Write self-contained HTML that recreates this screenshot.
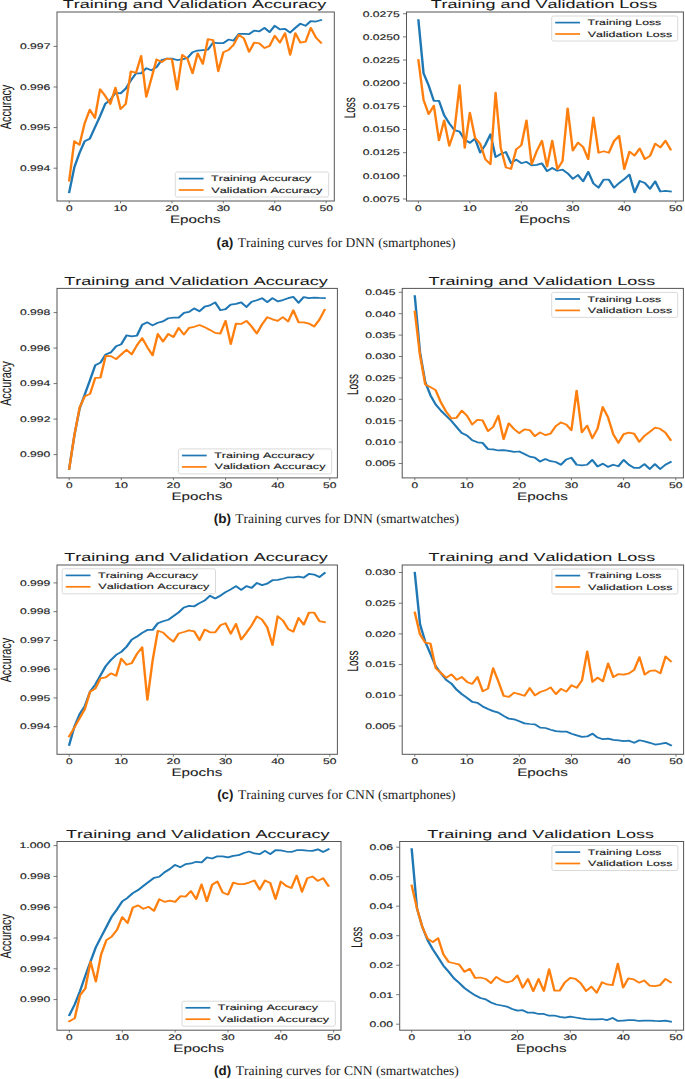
<!DOCTYPE html>
<html><head><meta charset="utf-8"><style>
html,body{margin:0;padding:0;background:#fff;}
svg{display:block;}
text{font-kerning:none;text-rendering:geometricPrecision;}
</style></head><body>
<svg width="685" height="1079" viewBox="0 0 685 1079">
<rect width="685" height="1079" fill="#fff"/>
<text transform="translate(62.75,8.40) scale(0.9010,0.5741)" font-size="20" font-family='"Liberation Sans", sans-serif' fill="#1a1a1a" stroke="#1a1a1a" stroke-width="0.089">Training and Validation Accuracy</text>
<polyline transform="scale(1,0.73)" points="69.20,263.37 74.34,229.21 79.48,209.61 84.62,193.38 89.76,190.02 94.89,174.62 100.03,159.22 105.17,142.42 110.31,136.82 115.45,127.02 120.59,127.86 125.73,121.42 130.87,110.23 136.00,100.43 141.14,100.43 146.28,93.43 151.42,96.23 156.56,92.03 161.70,82.23 166.84,80.27 171.98,80.27 177.11,82.23 182.25,81.39 187.39,79.43 192.53,71.53 197.67,69.21 202.81,68.63 207.95,68.05 213.09,58.49 218.22,59.07 223.36,59.07 228.50,54.14 233.64,55.59 238.78,46.31 243.92,46.31 249.06,46.89 254.20,41.96 259.33,43.12 264.47,38.19 269.61,43.99 274.75,35.29 279.89,40.22 285.03,39.64 290.17,44.57 295.31,38.19 300.44,32.39 305.58,35.29 310.72,28.91 315.86,29.49 321.00,27.46" fill="none" stroke="#1f77b4" stroke-width="2.4" stroke-linejoin="round" stroke-linecap="square"/>
<polyline transform="scale(1,0.73)" points="69.20,247.41 74.34,193.38 79.48,198.41 84.62,169.02 89.76,150.26 94.89,161.46 100.03,122.26 105.17,131.22 110.31,142.42 115.45,120.02 120.59,149.42 125.73,142.42 130.87,97.63 136.00,99.87 141.14,76.63 146.28,132.62 151.42,107.43 156.56,81.39 161.70,85.03 166.84,80.27 171.98,81.39 177.11,122.82 182.25,75.23 187.39,80.27 192.53,100.53 197.67,72.98 202.81,87.48 207.95,53.56 213.09,55.01 218.22,97.63 223.36,71.53 228.50,68.63 233.64,61.39 238.78,47.76 243.92,52.69 249.06,70.95 254.20,58.49 259.33,59.36 264.47,65.73 269.61,62.84 274.75,48.92 279.89,58.49 285.03,45.44 290.17,75.30 295.31,45.44 300.44,58.49 305.58,57.04 310.72,38.19 315.86,51.24 321.00,58.49" fill="none" stroke="#ff7f0e" stroke-width="2.4" stroke-linejoin="round" stroke-linecap="square"/>
<rect x="57.00" y="12.00" width="277.30" height="189.00" fill="none" stroke="#555" stroke-width="1"/>
<line x1="53.50" y1="168.20" x2="57.00" y2="168.20" stroke="#555" stroke-width="0.8"/>
<text transform="translate(19.93,171.00) scale(0.6038,0.4070)" font-size="20" font-family='"Liberation Sans", sans-serif' fill="#1a1a1a" stroke="#1a1a1a" stroke-width="0.331">0.994</text>
<line x1="53.50" y1="127.60" x2="57.00" y2="127.60" stroke="#555" stroke-width="0.8"/>
<text transform="translate(19.93,130.40) scale(0.6070,0.4070)" font-size="20" font-family='"Liberation Sans", sans-serif' fill="#1a1a1a" stroke="#1a1a1a" stroke-width="0.329">0.995</text>
<line x1="53.50" y1="87.00" x2="57.00" y2="87.00" stroke="#555" stroke-width="0.8"/>
<text transform="translate(19.93,89.80) scale(0.6075,0.4070)" font-size="20" font-family='"Liberation Sans", sans-serif' fill="#1a1a1a" stroke="#1a1a1a" stroke-width="0.329">0.996</text>
<line x1="53.50" y1="46.40" x2="57.00" y2="46.40" stroke="#555" stroke-width="0.8"/>
<text transform="translate(19.93,49.20) scale(0.6091,0.4070)" font-size="20" font-family='"Liberation Sans", sans-serif' fill="#1a1a1a" stroke="#1a1a1a" stroke-width="0.328">0.997</text>
<line x1="69.20" y1="201.00" x2="69.20" y2="203.30" stroke="#555" stroke-width="0.8"/>
<text transform="translate(65.89,210.70) scale(0.5950,0.4070)" font-size="20" font-family='"Liberation Sans", sans-serif' fill="#1a1a1a" stroke="#1a1a1a" stroke-width="0.336">0</text>
<line x1="120.59" y1="201.00" x2="120.59" y2="203.30" stroke="#555" stroke-width="0.8"/>
<text transform="translate(113.40,210.70) scale(0.6249,0.4070)" font-size="20" font-family='"Liberation Sans", sans-serif' fill="#1a1a1a" stroke="#1a1a1a" stroke-width="0.320">10</text>
<line x1="171.98" y1="201.00" x2="171.98" y2="203.30" stroke="#555" stroke-width="0.8"/>
<text transform="translate(165.13,210.70) scale(0.6091,0.4070)" font-size="20" font-family='"Liberation Sans", sans-serif' fill="#1a1a1a" stroke="#1a1a1a" stroke-width="0.328">20</text>
<line x1="223.36" y1="201.00" x2="223.36" y2="203.30" stroke="#555" stroke-width="0.8"/>
<text transform="translate(216.67,210.70) scale(0.6020,0.4070)" font-size="20" font-family='"Liberation Sans", sans-serif' fill="#1a1a1a" stroke="#1a1a1a" stroke-width="0.332">30</text>
<line x1="274.75" y1="201.00" x2="274.75" y2="203.30" stroke="#555" stroke-width="0.8"/>
<text transform="translate(268.25,210.70) scale(0.5933,0.4070)" font-size="20" font-family='"Liberation Sans", sans-serif' fill="#1a1a1a" stroke="#1a1a1a" stroke-width="0.337">40</text>
<line x1="326.14" y1="201.00" x2="326.14" y2="203.30" stroke="#555" stroke-width="0.8"/>
<text transform="translate(319.42,210.70) scale(0.6031,0.4070)" font-size="20" font-family='"Liberation Sans", sans-serif' fill="#1a1a1a" stroke="#1a1a1a" stroke-width="0.332">50</text>
<text transform="translate(169.90,222.80) scale(0.7615,0.5451)" font-size="20" font-family='"Liberation Sans", sans-serif' fill="#1a1a1a" stroke="#1a1a1a" stroke-width="0.131">Epochs</text>
<text transform="translate(10.90,129.22) rotate(-90) scale(0.5404,0.7631)" font-size="20" font-family='"Liberation Sans", sans-serif' fill="#1a1a1a" stroke="#1a1a1a" stroke-width="0.131">Accuracy</text>
<rect x="175.30" y="172.00" width="153.30" height="25.00" rx="2" ry="1.5" fill="#fff" fill-opacity="0.85" stroke="#d6d6d6" stroke-width="0.9"/>
<line x1="178.80" y1="178.60" x2="203.60" y2="178.60" stroke="#1f77b4" stroke-width="1.7"/>
<line x1="178.80" y1="190.00" x2="203.60" y2="190.00" stroke="#ff7f0e" stroke-width="1.7"/>
<text transform="translate(211.12,181.10) scale(0.6254,0.3997)" font-size="20" font-family='"Liberation Sans", sans-serif' fill="#1a1a1a" stroke="#1a1a1a" stroke-width="0.320">Training Accuracy</text>
<text transform="translate(211.34,192.50) scale(0.6324,0.3997)" font-size="20" font-family='"Liberation Sans", sans-serif' fill="#1a1a1a" stroke="#1a1a1a" stroke-width="0.316">Validation Accuracy</text>
<text transform="translate(430.65,8.40) scale(0.8981,0.5741)" font-size="20" font-family='"Liberation Sans", sans-serif' fill="#1a1a1a" stroke="#1a1a1a" stroke-width="0.089">Training and Validation Loss</text>
<polyline transform="scale(1,0.73)" points="418.40,27.64 423.55,100.43 428.69,117.23 433.84,138.22 438.99,138.22 444.13,157.82 449.28,169.02 454.43,178.26 459.58,180.22 464.72,191.42 469.87,195.62 475.02,190.02 480.16,209.05 485.31,198.41 490.46,183.86 495.60,215.21 500.75,211.01 505.90,208.21 511.04,223.61 516.19,218.57 521.34,223.61 526.49,221.65 531.63,226.41 536.78,225.85 541.93,223.77 547.07,234.50 552.22,230.15 557.37,233.92 562.51,232.47 567.66,237.40 572.81,244.94 577.96,239.72 583.10,248.42 588.25,235.37 593.40,251.32 598.54,257.12 603.69,246.10 608.84,246.10 613.98,257.12 619.13,250.74 624.28,245.52 629.42,239.14 634.57,263.50 639.72,247.84 644.87,250.74 650.01,258.57 655.16,248.42 660.31,262.34 665.45,261.47 670.60,262.34" fill="none" stroke="#1f77b4" stroke-width="2.4" stroke-linejoin="round" stroke-linecap="square"/>
<polyline transform="scale(1,0.73)" points="418.40,82.23 423.55,136.82 428.69,156.42 433.84,144.66 438.99,192.26 444.13,164.82 449.28,199.81 454.43,178.82 459.58,116.67 464.72,202.61 469.87,154.18 475.02,188.62 480.16,197.02 485.31,218.01 490.46,225.01 495.60,127.02 500.75,202.61 505.90,229.21 511.04,231.45 516.19,204.57 521.34,198.97 526.49,164.82 531.63,225.01 536.78,206.81 541.93,192.75 547.07,228.12 552.22,192.75 557.37,231.60 562.51,220.87 567.66,148.38 572.81,206.37 577.96,195.36 583.10,201.45 588.25,217.97 593.40,160.85 598.54,209.27 603.69,207.24 608.84,209.27 613.98,193.33 619.13,186.08 624.28,231.60 629.42,207.82 634.57,213.04 639.72,203.48 644.87,217.97 650.01,213.62 655.16,196.81 660.31,202.03 665.45,192.75 670.60,204.93" fill="none" stroke="#ff7f0e" stroke-width="2.4" stroke-linejoin="round" stroke-linecap="square"/>
<rect x="406.50" y="12.00" width="276.90" height="189.00" fill="none" stroke="#555" stroke-width="1"/>
<line x1="403.00" y1="199.00" x2="406.50" y2="199.00" stroke="#555" stroke-width="0.8"/>
<text transform="translate(362.66,201.80) scale(0.6074,0.4070)" font-size="20" font-family='"Liberation Sans", sans-serif' fill="#1a1a1a" stroke="#1a1a1a" stroke-width="0.329">0.0075</text>
<line x1="403.00" y1="175.84" x2="406.50" y2="175.84" stroke="#555" stroke-width="0.8"/>
<text transform="translate(362.66,178.64) scale(0.6068,0.4070)" font-size="20" font-family='"Liberation Sans", sans-serif' fill="#1a1a1a" stroke="#1a1a1a" stroke-width="0.330">0.0100</text>
<line x1="403.00" y1="152.68" x2="406.50" y2="152.68" stroke="#555" stroke-width="0.8"/>
<text transform="translate(362.66,155.48) scale(0.6074,0.4070)" font-size="20" font-family='"Liberation Sans", sans-serif' fill="#1a1a1a" stroke="#1a1a1a" stroke-width="0.329">0.0125</text>
<line x1="403.00" y1="129.52" x2="406.50" y2="129.52" stroke="#555" stroke-width="0.8"/>
<text transform="translate(362.66,132.32) scale(0.6068,0.4070)" font-size="20" font-family='"Liberation Sans", sans-serif' fill="#1a1a1a" stroke="#1a1a1a" stroke-width="0.330">0.0150</text>
<line x1="403.00" y1="106.36" x2="406.50" y2="106.36" stroke="#555" stroke-width="0.8"/>
<text transform="translate(362.66,109.16) scale(0.6074,0.4070)" font-size="20" font-family='"Liberation Sans", sans-serif' fill="#1a1a1a" stroke="#1a1a1a" stroke-width="0.329">0.0175</text>
<line x1="403.00" y1="83.20" x2="406.50" y2="83.20" stroke="#555" stroke-width="0.8"/>
<text transform="translate(362.66,86.00) scale(0.6068,0.4070)" font-size="20" font-family='"Liberation Sans", sans-serif' fill="#1a1a1a" stroke="#1a1a1a" stroke-width="0.330">0.0200</text>
<line x1="403.00" y1="60.04" x2="406.50" y2="60.04" stroke="#555" stroke-width="0.8"/>
<text transform="translate(362.66,62.84) scale(0.6074,0.4070)" font-size="20" font-family='"Liberation Sans", sans-serif' fill="#1a1a1a" stroke="#1a1a1a" stroke-width="0.329">0.0225</text>
<line x1="403.00" y1="36.88" x2="406.50" y2="36.88" stroke="#555" stroke-width="0.8"/>
<text transform="translate(362.66,39.68) scale(0.6068,0.4070)" font-size="20" font-family='"Liberation Sans", sans-serif' fill="#1a1a1a" stroke="#1a1a1a" stroke-width="0.330">0.0250</text>
<line x1="403.00" y1="13.72" x2="406.50" y2="13.72" stroke="#555" stroke-width="0.8"/>
<text transform="translate(362.66,16.52) scale(0.6074,0.4070)" font-size="20" font-family='"Liberation Sans", sans-serif' fill="#1a1a1a" stroke="#1a1a1a" stroke-width="0.329">0.0275</text>
<line x1="418.40" y1="201.00" x2="418.40" y2="203.30" stroke="#555" stroke-width="0.8"/>
<text transform="translate(415.09,210.70) scale(0.5950,0.4070)" font-size="20" font-family='"Liberation Sans", sans-serif' fill="#1a1a1a" stroke="#1a1a1a" stroke-width="0.336">0</text>
<line x1="469.87" y1="201.00" x2="469.87" y2="203.30" stroke="#555" stroke-width="0.8"/>
<text transform="translate(462.69,210.70) scale(0.6249,0.4070)" font-size="20" font-family='"Liberation Sans", sans-serif' fill="#1a1a1a" stroke="#1a1a1a" stroke-width="0.320">10</text>
<line x1="521.34" y1="201.00" x2="521.34" y2="203.30" stroke="#555" stroke-width="0.8"/>
<text transform="translate(514.49,210.70) scale(0.6091,0.4070)" font-size="20" font-family='"Liberation Sans", sans-serif' fill="#1a1a1a" stroke="#1a1a1a" stroke-width="0.328">20</text>
<line x1="572.81" y1="201.00" x2="572.81" y2="203.30" stroke="#555" stroke-width="0.8"/>
<text transform="translate(566.12,210.70) scale(0.6020,0.4070)" font-size="20" font-family='"Liberation Sans", sans-serif' fill="#1a1a1a" stroke="#1a1a1a" stroke-width="0.332">30</text>
<line x1="624.28" y1="201.00" x2="624.28" y2="203.30" stroke="#555" stroke-width="0.8"/>
<text transform="translate(617.77,210.70) scale(0.5933,0.4070)" font-size="20" font-family='"Liberation Sans", sans-serif' fill="#1a1a1a" stroke="#1a1a1a" stroke-width="0.337">40</text>
<line x1="675.75" y1="201.00" x2="675.75" y2="203.30" stroke="#555" stroke-width="0.8"/>
<text transform="translate(669.03,210.70) scale(0.6031,0.4070)" font-size="20" font-family='"Liberation Sans", sans-serif' fill="#1a1a1a" stroke="#1a1a1a" stroke-width="0.332">50</text>
<text transform="translate(519.20,222.80) scale(0.7615,0.5451)" font-size="20" font-family='"Liberation Sans", sans-serif' fill="#1a1a1a" stroke="#1a1a1a" stroke-width="0.131">Epochs</text>
<text transform="translate(355.00,118.37) rotate(-90) scale(0.4990,0.7703)" font-size="20" font-family='"Liberation Sans", sans-serif' fill="#1a1a1a" stroke="#1a1a1a" stroke-width="0.130">Loss</text>
<rect x="551.70" y="16.00" width="126.00" height="25.00" rx="2" ry="1.5" fill="#fff" fill-opacity="0.85" stroke="#d6d6d6" stroke-width="0.9"/>
<line x1="555.20" y1="22.60" x2="580.00" y2="22.60" stroke="#1f77b4" stroke-width="1.7"/>
<line x1="555.20" y1="34.00" x2="580.00" y2="34.00" stroke="#ff7f0e" stroke-width="1.7"/>
<text transform="translate(587.52,25.10) scale(0.6140,0.3997)" font-size="20" font-family='"Liberation Sans", sans-serif' fill="#1a1a1a" stroke="#1a1a1a" stroke-width="0.326">Training Loss</text>
<text transform="translate(587.75,36.50) scale(0.6230,0.3997)" font-size="20" font-family='"Liberation Sans", sans-serif' fill="#1a1a1a" stroke="#1a1a1a" stroke-width="0.321">Validation Loss</text>
<text transform="translate(64.30,284.80) scale(0.9010,0.5741)" font-size="20" font-family='"Liberation Sans", sans-serif' fill="#1a1a1a" stroke="#1a1a1a" stroke-width="0.089">Training and Validation Accuracy</text>
<polyline transform="scale(1,0.73)" points="69.20,642.29 74.41,596.09 79.62,559.70 84.84,540.10 90.05,520.50 95.26,500.35 100.47,496.71 105.69,485.51 110.90,482.71 116.11,474.31 121.32,471.51 126.53,459.47 131.75,460.87 136.96,459.75 142.17,444.91 147.38,441.55 152.60,445.75 157.81,442.11 163.02,440.15 168.23,435.96 173.44,435.12 178.66,435.12 183.87,428.68 189.08,427.28 194.29,422.52 199.51,426.42 204.72,420.04 209.93,418.30 215.14,414.24 220.36,424.97 225.57,423.52 230.78,417.14 235.99,416.27 241.20,414.24 246.42,420.62 251.63,413.37 256.84,411.34 262.05,408.44 267.27,413.95 272.48,408.44 277.69,412.79 282.90,411.05 288.11,408.44 293.33,406.70 298.54,414.82 303.75,406.99 308.96,408.44 314.18,407.57 319.39,408.15 324.60,408.44" fill="none" stroke="#1f77b4" stroke-width="2.4" stroke-linejoin="round" stroke-linecap="square"/>
<polyline transform="scale(1,0.73)" points="69.20,642.29 74.41,596.09 79.62,558.30 84.84,542.90 90.05,539.54 95.26,517.70 100.47,517.14 105.69,487.47 110.90,487.75 116.11,491.95 121.32,485.51 126.53,479.07 131.75,485.51 136.96,472.91 142.17,463.11 147.38,475.71 152.60,486.91 157.81,457.51 163.02,467.87 168.23,457.51 173.44,461.71 178.66,449.11 183.87,458.35 189.08,449.11 194.29,447.71 199.51,445.27 204.72,448.17 209.93,451.94 215.14,456.00 220.36,456.87 225.57,439.47 230.78,471.37 235.99,443.24 241.20,443.82 246.42,439.47 251.63,447.30 256.84,456.87 262.05,444.40 267.27,434.54 272.48,437.44 277.69,439.47 282.90,434.54 288.11,440.34 293.33,424.97 298.54,441.50 303.75,441.50 308.96,443.24 314.18,447.30 319.39,438.02 324.60,424.39" fill="none" stroke="#ff7f0e" stroke-width="2.4" stroke-linejoin="round" stroke-linecap="square"/>
<rect x="57.00" y="288.40" width="280.40" height="189.50" fill="none" stroke="#555" stroke-width="1"/>
<line x1="53.50" y1="454.60" x2="57.00" y2="454.60" stroke="#555" stroke-width="0.8"/>
<text transform="translate(19.93,457.40) scale(0.6063,0.4070)" font-size="20" font-family='"Liberation Sans", sans-serif' fill="#1a1a1a" stroke="#1a1a1a" stroke-width="0.330">0.990</text>
<line x1="53.50" y1="419.10" x2="57.00" y2="419.10" stroke="#555" stroke-width="0.8"/>
<text transform="translate(19.93,421.90) scale(0.6091,0.4070)" font-size="20" font-family='"Liberation Sans", sans-serif' fill="#1a1a1a" stroke="#1a1a1a" stroke-width="0.328">0.992</text>
<line x1="53.50" y1="383.60" x2="57.00" y2="383.60" stroke="#555" stroke-width="0.8"/>
<text transform="translate(19.93,386.40) scale(0.6038,0.4070)" font-size="20" font-family='"Liberation Sans", sans-serif' fill="#1a1a1a" stroke="#1a1a1a" stroke-width="0.331">0.994</text>
<line x1="53.50" y1="348.10" x2="57.00" y2="348.10" stroke="#555" stroke-width="0.8"/>
<text transform="translate(19.93,350.90) scale(0.6075,0.4070)" font-size="20" font-family='"Liberation Sans", sans-serif' fill="#1a1a1a" stroke="#1a1a1a" stroke-width="0.329">0.996</text>
<line x1="53.50" y1="312.60" x2="57.00" y2="312.60" stroke="#555" stroke-width="0.8"/>
<text transform="translate(19.93,315.40) scale(0.6074,0.4070)" font-size="20" font-family='"Liberation Sans", sans-serif' fill="#1a1a1a" stroke="#1a1a1a" stroke-width="0.329">0.998</text>
<line x1="69.20" y1="477.90" x2="69.20" y2="480.20" stroke="#555" stroke-width="0.8"/>
<text transform="translate(65.89,487.60) scale(0.5950,0.4070)" font-size="20" font-family='"Liberation Sans", sans-serif' fill="#1a1a1a" stroke="#1a1a1a" stroke-width="0.336">0</text>
<line x1="121.32" y1="477.90" x2="121.32" y2="480.20" stroke="#555" stroke-width="0.8"/>
<text transform="translate(114.14,487.60) scale(0.6249,0.4070)" font-size="20" font-family='"Liberation Sans", sans-serif' fill="#1a1a1a" stroke="#1a1a1a" stroke-width="0.320">10</text>
<line x1="173.44" y1="477.90" x2="173.44" y2="480.20" stroke="#555" stroke-width="0.8"/>
<text transform="translate(166.60,487.60) scale(0.6091,0.4070)" font-size="20" font-family='"Liberation Sans", sans-serif' fill="#1a1a1a" stroke="#1a1a1a" stroke-width="0.328">20</text>
<line x1="225.57" y1="477.90" x2="225.57" y2="480.20" stroke="#555" stroke-width="0.8"/>
<text transform="translate(218.88,487.60) scale(0.6020,0.4070)" font-size="20" font-family='"Liberation Sans", sans-serif' fill="#1a1a1a" stroke="#1a1a1a" stroke-width="0.332">30</text>
<line x1="277.69" y1="477.90" x2="277.69" y2="480.20" stroke="#555" stroke-width="0.8"/>
<text transform="translate(271.19,487.60) scale(0.5933,0.4070)" font-size="20" font-family='"Liberation Sans", sans-serif' fill="#1a1a1a" stroke="#1a1a1a" stroke-width="0.337">40</text>
<line x1="329.81" y1="477.90" x2="329.81" y2="480.20" stroke="#555" stroke-width="0.8"/>
<text transform="translate(323.10,487.60) scale(0.6031,0.4070)" font-size="20" font-family='"Liberation Sans", sans-serif' fill="#1a1a1a" stroke="#1a1a1a" stroke-width="0.332">50</text>
<text transform="translate(171.45,499.70) scale(0.7615,0.5451)" font-size="20" font-family='"Liberation Sans", sans-serif' fill="#1a1a1a" stroke="#1a1a1a" stroke-width="0.131">Epochs</text>
<text transform="translate(10.90,405.87) rotate(-90) scale(0.5404,0.7631)" font-size="20" font-family='"Liberation Sans", sans-serif' fill="#1a1a1a" stroke="#1a1a1a" stroke-width="0.131">Accuracy</text>
<rect x="178.40" y="448.90" width="153.30" height="25.00" rx="2" ry="1.5" fill="#fff" fill-opacity="0.85" stroke="#d6d6d6" stroke-width="0.9"/>
<line x1="181.90" y1="455.50" x2="206.70" y2="455.50" stroke="#1f77b4" stroke-width="1.7"/>
<line x1="181.90" y1="466.90" x2="206.70" y2="466.90" stroke="#ff7f0e" stroke-width="1.7"/>
<text transform="translate(214.22,458.00) scale(0.6254,0.3997)" font-size="20" font-family='"Liberation Sans", sans-serif' fill="#1a1a1a" stroke="#1a1a1a" stroke-width="0.320">Training Accuracy</text>
<text transform="translate(214.44,469.40) scale(0.6324,0.3997)" font-size="20" font-family='"Liberation Sans", sans-serif' fill="#1a1a1a" stroke="#1a1a1a" stroke-width="0.316">Validation Accuracy</text>
<text transform="translate(428.50,284.80) scale(0.8981,0.5741)" font-size="20" font-family='"Liberation Sans", sans-serif' fill="#1a1a1a" stroke="#1a1a1a" stroke-width="0.089">Training and Validation Loss</text>
<polyline transform="scale(1,0.73)" points="414.80,405.72 420.02,482.71 425.24,523.30 430.46,541.50 435.68,554.10 440.90,562.50 446.12,569.50 451.34,576.50 456.56,584.90 461.78,593.29 467.00,596.65 472.22,603.09 477.44,605.89 482.67,606.73 487.89,615.13 493.11,615.69 498.33,617.09 503.55,616.53 508.77,617.65 513.99,619.05 519.21,618.49 524.43,621.85 529.65,625.49 534.87,626.89 540.09,632.30 545.31,628.82 550.53,631.72 555.75,632.88 560.97,636.65 566.19,629.40 571.41,627.08 576.63,636.65 581.85,637.52 587.07,636.65 592.29,629.98 597.51,638.97 602.73,635.20 607.96,639.55 613.18,636.65 618.40,638.68 623.62,629.98 628.84,636.65 634.06,641.00 639.28,641.00 644.50,635.78 649.72,642.45 654.94,635.78 660.16,642.45 665.38,636.65 670.60,632.88" fill="none" stroke="#1f77b4" stroke-width="2.4" stroke-linejoin="round" stroke-linecap="square"/>
<polyline transform="scale(1,0.73)" points="414.80,426.72 420.02,486.91 425.24,526.66 430.46,530.30 435.68,534.50 440.90,551.30 446.12,563.90 451.34,573.14 456.56,572.30 461.78,562.50 467.00,569.50 472.22,581.54 477.44,575.10 482.67,575.94 487.89,590.50 493.11,584.90 498.33,569.50 503.55,601.69 508.77,579.86 513.99,587.70 519.21,593.29 524.43,588.26 529.65,589.10 534.87,597.49 540.09,592.29 545.31,596.06 550.53,594.03 555.75,583.59 560.97,578.66 566.19,581.56 571.41,589.39 576.63,535.16 581.85,592.29 587.07,583.01 592.29,600.41 597.51,587.36 602.73,557.49 607.96,571.41 613.18,594.61 618.40,606.79 623.62,594.61 628.84,592.58 634.06,594.03 639.28,605.34 644.50,596.93 649.72,591.71 654.94,585.91 660.16,587.36 665.38,592.58 670.60,602.73" fill="none" stroke="#ff7f0e" stroke-width="2.4" stroke-linejoin="round" stroke-linecap="square"/>
<rect x="402.20" y="288.40" width="281.20" height="189.50" fill="none" stroke="#555" stroke-width="1"/>
<line x1="398.70" y1="463.50" x2="402.20" y2="463.50" stroke="#555" stroke-width="0.8"/>
<text transform="translate(365.13,466.30) scale(0.6070,0.4070)" font-size="20" font-family='"Liberation Sans", sans-serif' fill="#1a1a1a" stroke="#1a1a1a" stroke-width="0.329">0.005</text>
<line x1="398.70" y1="442.10" x2="402.20" y2="442.10" stroke="#555" stroke-width="0.8"/>
<text transform="translate(365.13,444.90) scale(0.6063,0.4070)" font-size="20" font-family='"Liberation Sans", sans-serif' fill="#1a1a1a" stroke="#1a1a1a" stroke-width="0.330">0.010</text>
<line x1="398.70" y1="420.70" x2="402.20" y2="420.70" stroke="#555" stroke-width="0.8"/>
<text transform="translate(365.13,423.50) scale(0.6070,0.4070)" font-size="20" font-family='"Liberation Sans", sans-serif' fill="#1a1a1a" stroke="#1a1a1a" stroke-width="0.329">0.015</text>
<line x1="398.70" y1="399.30" x2="402.20" y2="399.30" stroke="#555" stroke-width="0.8"/>
<text transform="translate(365.13,402.10) scale(0.6063,0.4070)" font-size="20" font-family='"Liberation Sans", sans-serif' fill="#1a1a1a" stroke="#1a1a1a" stroke-width="0.330">0.020</text>
<line x1="398.70" y1="377.90" x2="402.20" y2="377.90" stroke="#555" stroke-width="0.8"/>
<text transform="translate(365.13,380.70) scale(0.6070,0.4070)" font-size="20" font-family='"Liberation Sans", sans-serif' fill="#1a1a1a" stroke="#1a1a1a" stroke-width="0.329">0.025</text>
<line x1="398.70" y1="356.50" x2="402.20" y2="356.50" stroke="#555" stroke-width="0.8"/>
<text transform="translate(365.13,359.30) scale(0.6063,0.4070)" font-size="20" font-family='"Liberation Sans", sans-serif' fill="#1a1a1a" stroke="#1a1a1a" stroke-width="0.330">0.030</text>
<line x1="398.70" y1="335.10" x2="402.20" y2="335.10" stroke="#555" stroke-width="0.8"/>
<text transform="translate(365.13,337.90) scale(0.6070,0.4070)" font-size="20" font-family='"Liberation Sans", sans-serif' fill="#1a1a1a" stroke="#1a1a1a" stroke-width="0.329">0.035</text>
<line x1="398.70" y1="313.70" x2="402.20" y2="313.70" stroke="#555" stroke-width="0.8"/>
<text transform="translate(365.13,316.50) scale(0.6063,0.4070)" font-size="20" font-family='"Liberation Sans", sans-serif' fill="#1a1a1a" stroke="#1a1a1a" stroke-width="0.330">0.040</text>
<line x1="398.70" y1="292.30" x2="402.20" y2="292.30" stroke="#555" stroke-width="0.8"/>
<text transform="translate(365.13,295.10) scale(0.6070,0.4070)" font-size="20" font-family='"Liberation Sans", sans-serif' fill="#1a1a1a" stroke="#1a1a1a" stroke-width="0.329">0.045</text>
<line x1="414.80" y1="477.90" x2="414.80" y2="480.20" stroke="#555" stroke-width="0.8"/>
<text transform="translate(411.49,487.60) scale(0.5950,0.4070)" font-size="20" font-family='"Liberation Sans", sans-serif' fill="#1a1a1a" stroke="#1a1a1a" stroke-width="0.336">0</text>
<line x1="467.00" y1="477.90" x2="467.00" y2="480.20" stroke="#555" stroke-width="0.8"/>
<text transform="translate(459.82,487.60) scale(0.6249,0.4070)" font-size="20" font-family='"Liberation Sans", sans-serif' fill="#1a1a1a" stroke="#1a1a1a" stroke-width="0.320">10</text>
<line x1="519.21" y1="477.90" x2="519.21" y2="480.20" stroke="#555" stroke-width="0.8"/>
<text transform="translate(512.36,487.60) scale(0.6091,0.4070)" font-size="20" font-family='"Liberation Sans", sans-serif' fill="#1a1a1a" stroke="#1a1a1a" stroke-width="0.328">20</text>
<line x1="571.41" y1="477.90" x2="571.41" y2="480.20" stroke="#555" stroke-width="0.8"/>
<text transform="translate(564.72,487.60) scale(0.6020,0.4070)" font-size="20" font-family='"Liberation Sans", sans-serif' fill="#1a1a1a" stroke="#1a1a1a" stroke-width="0.332">30</text>
<line x1="623.62" y1="477.90" x2="623.62" y2="480.20" stroke="#555" stroke-width="0.8"/>
<text transform="translate(617.11,487.60) scale(0.5933,0.4070)" font-size="20" font-family='"Liberation Sans", sans-serif' fill="#1a1a1a" stroke="#1a1a1a" stroke-width="0.337">40</text>
<line x1="675.82" y1="477.90" x2="675.82" y2="480.20" stroke="#555" stroke-width="0.8"/>
<text transform="translate(669.11,487.60) scale(0.6031,0.4070)" font-size="20" font-family='"Liberation Sans", sans-serif' fill="#1a1a1a" stroke="#1a1a1a" stroke-width="0.332">50</text>
<text transform="translate(517.05,499.70) scale(0.7615,0.5451)" font-size="20" font-family='"Liberation Sans", sans-serif' fill="#1a1a1a" stroke="#1a1a1a" stroke-width="0.131">Epochs</text>
<text transform="translate(358.10,395.02) rotate(-90) scale(0.4990,0.7703)" font-size="20" font-family='"Liberation Sans", sans-serif' fill="#1a1a1a" stroke="#1a1a1a" stroke-width="0.130">Loss</text>
<rect x="551.70" y="292.40" width="126.00" height="25.00" rx="2" ry="1.5" fill="#fff" fill-opacity="0.85" stroke="#d6d6d6" stroke-width="0.9"/>
<line x1="555.20" y1="299.00" x2="580.00" y2="299.00" stroke="#1f77b4" stroke-width="1.7"/>
<line x1="555.20" y1="310.40" x2="580.00" y2="310.40" stroke="#ff7f0e" stroke-width="1.7"/>
<text transform="translate(587.52,301.50) scale(0.6140,0.3997)" font-size="20" font-family='"Liberation Sans", sans-serif' fill="#1a1a1a" stroke="#1a1a1a" stroke-width="0.326">Training Loss</text>
<text transform="translate(587.75,312.90) scale(0.6230,0.3997)" font-size="20" font-family='"Liberation Sans", sans-serif' fill="#1a1a1a" stroke="#1a1a1a" stroke-width="0.321">Validation Loss</text>
<text transform="translate(64.30,561.40) scale(0.9010,0.5741)" font-size="20" font-family='"Liberation Sans", sans-serif' fill="#1a1a1a" stroke="#1a1a1a" stroke-width="0.089">Training and Validation Accuracy</text>
<polyline transform="scale(1,0.73)" points="69.20,1020.34 74.41,995.14 79.62,978.35 84.84,967.15 90.05,947.55 95.26,937.75 100.47,925.15 105.69,912.55 110.90,904.16 116.11,897.16 121.32,892.96 126.53,885.96 131.75,876.16 136.96,871.96 142.17,866.92 147.38,863.00 152.60,863.00 157.81,853.76 163.02,850.96 168.23,849.00 173.44,843.96 178.66,838.92 183.87,832.21 189.08,829.97 194.29,830.53 199.51,826.17 204.72,822.69 209.93,816.02 215.14,819.79 220.36,816.02 225.57,811.09 230.78,807.32 235.99,802.97 241.20,807.90 246.42,802.97 251.63,805.29 256.84,798.62 262.05,801.52 267.27,799.49 272.48,794.85 277.69,794.27 282.90,792.82 288.11,790.79 293.33,790.79 298.54,789.92 303.75,791.37 308.96,786.15 314.18,787.02 319.39,790.50 324.60,784.99" fill="none" stroke="#1f77b4" stroke-width="2.4" stroke-linejoin="round" stroke-linecap="square"/>
<polyline transform="scale(1,0.73)" points="69.20,1008.58 74.41,996.54 79.62,983.95 84.84,971.35 90.05,947.55 95.26,943.35 100.47,929.35 105.69,927.95 110.90,922.35 116.11,925.71 121.32,902.20 126.53,910.59 131.75,908.36 136.96,895.76 142.17,886.52 147.38,958.75 152.60,905.00 157.81,864.12 163.02,866.36 168.23,873.36 173.44,878.96 178.66,867.76 183.87,865.80 189.08,863.56 194.29,864.96 199.51,876.92 204.72,862.42 209.93,866.19 215.14,866.19 220.36,856.62 225.57,853.72 230.78,868.22 235.99,854.59 241.20,876.05 246.42,866.77 251.63,856.62 256.84,844.44 262.05,848.79 267.27,859.52 272.48,883.58 277.69,844.15 282.90,849.95 288.11,861.55 293.33,865.32 298.54,846.47 303.75,855.75 308.96,839.22 314.18,839.22 319.39,850.82 324.60,852.27" fill="none" stroke="#ff7f0e" stroke-width="2.4" stroke-linejoin="round" stroke-linecap="square"/>
<rect x="57.00" y="565.00" width="280.40" height="189.30" fill="none" stroke="#555" stroke-width="1"/>
<line x1="53.50" y1="726.65" x2="57.00" y2="726.65" stroke="#555" stroke-width="0.8"/>
<text transform="translate(19.93,729.45) scale(0.6038,0.4070)" font-size="20" font-family='"Liberation Sans", sans-serif' fill="#1a1a1a" stroke="#1a1a1a" stroke-width="0.331">0.994</text>
<line x1="53.50" y1="697.90" x2="57.00" y2="697.90" stroke="#555" stroke-width="0.8"/>
<text transform="translate(19.93,700.70) scale(0.6070,0.4070)" font-size="20" font-family='"Liberation Sans", sans-serif' fill="#1a1a1a" stroke="#1a1a1a" stroke-width="0.329">0.995</text>
<line x1="53.50" y1="669.15" x2="57.00" y2="669.15" stroke="#555" stroke-width="0.8"/>
<text transform="translate(19.93,671.95) scale(0.6075,0.4070)" font-size="20" font-family='"Liberation Sans", sans-serif' fill="#1a1a1a" stroke="#1a1a1a" stroke-width="0.329">0.996</text>
<line x1="53.50" y1="640.40" x2="57.00" y2="640.40" stroke="#555" stroke-width="0.8"/>
<text transform="translate(19.93,643.20) scale(0.6091,0.4070)" font-size="20" font-family='"Liberation Sans", sans-serif' fill="#1a1a1a" stroke="#1a1a1a" stroke-width="0.328">0.997</text>
<line x1="53.50" y1="611.65" x2="57.00" y2="611.65" stroke="#555" stroke-width="0.8"/>
<text transform="translate(19.93,614.45) scale(0.6074,0.4070)" font-size="20" font-family='"Liberation Sans", sans-serif' fill="#1a1a1a" stroke="#1a1a1a" stroke-width="0.329">0.998</text>
<line x1="53.50" y1="582.90" x2="57.00" y2="582.90" stroke="#555" stroke-width="0.8"/>
<text transform="translate(19.93,585.70) scale(0.6084,0.4070)" font-size="20" font-family='"Liberation Sans", sans-serif' fill="#1a1a1a" stroke="#1a1a1a" stroke-width="0.329">0.999</text>
<line x1="69.20" y1="754.30" x2="69.20" y2="756.60" stroke="#555" stroke-width="0.8"/>
<text transform="translate(65.89,764.00) scale(0.5950,0.4070)" font-size="20" font-family='"Liberation Sans", sans-serif' fill="#1a1a1a" stroke="#1a1a1a" stroke-width="0.336">0</text>
<line x1="121.32" y1="754.30" x2="121.32" y2="756.60" stroke="#555" stroke-width="0.8"/>
<text transform="translate(114.14,764.00) scale(0.6249,0.4070)" font-size="20" font-family='"Liberation Sans", sans-serif' fill="#1a1a1a" stroke="#1a1a1a" stroke-width="0.320">10</text>
<line x1="173.44" y1="754.30" x2="173.44" y2="756.60" stroke="#555" stroke-width="0.8"/>
<text transform="translate(166.60,764.00) scale(0.6091,0.4070)" font-size="20" font-family='"Liberation Sans", sans-serif' fill="#1a1a1a" stroke="#1a1a1a" stroke-width="0.328">20</text>
<line x1="225.57" y1="754.30" x2="225.57" y2="756.60" stroke="#555" stroke-width="0.8"/>
<text transform="translate(218.88,764.00) scale(0.6020,0.4070)" font-size="20" font-family='"Liberation Sans", sans-serif' fill="#1a1a1a" stroke="#1a1a1a" stroke-width="0.332">30</text>
<line x1="277.69" y1="754.30" x2="277.69" y2="756.60" stroke="#555" stroke-width="0.8"/>
<text transform="translate(271.19,764.00) scale(0.5933,0.4070)" font-size="20" font-family='"Liberation Sans", sans-serif' fill="#1a1a1a" stroke="#1a1a1a" stroke-width="0.337">40</text>
<line x1="329.81" y1="754.30" x2="329.81" y2="756.60" stroke="#555" stroke-width="0.8"/>
<text transform="translate(323.10,764.00) scale(0.6031,0.4070)" font-size="20" font-family='"Liberation Sans", sans-serif' fill="#1a1a1a" stroke="#1a1a1a" stroke-width="0.332">50</text>
<text transform="translate(171.45,776.10) scale(0.7615,0.5451)" font-size="20" font-family='"Liberation Sans", sans-serif' fill="#1a1a1a" stroke="#1a1a1a" stroke-width="0.131">Epochs</text>
<text transform="translate(10.90,682.37) rotate(-90) scale(0.5404,0.7631)" font-size="20" font-family='"Liberation Sans", sans-serif' fill="#1a1a1a" stroke="#1a1a1a" stroke-width="0.131">Accuracy</text>
<rect x="62.20" y="568.80" width="153.30" height="25.00" rx="2" ry="1.5" fill="#fff" fill-opacity="0.85" stroke="#d6d6d6" stroke-width="0.9"/>
<line x1="65.70" y1="575.40" x2="90.50" y2="575.40" stroke="#1f77b4" stroke-width="1.7"/>
<line x1="65.70" y1="586.80" x2="90.50" y2="586.80" stroke="#ff7f0e" stroke-width="1.7"/>
<text transform="translate(98.02,577.90) scale(0.6254,0.3997)" font-size="20" font-family='"Liberation Sans", sans-serif' fill="#1a1a1a" stroke="#1a1a1a" stroke-width="0.320">Training Accuracy</text>
<text transform="translate(98.24,589.30) scale(0.6324,0.3997)" font-size="20" font-family='"Liberation Sans", sans-serif' fill="#1a1a1a" stroke="#1a1a1a" stroke-width="0.316">Validation Accuracy</text>
<text transform="translate(428.60,561.40) scale(0.8981,0.5741)" font-size="20" font-family='"Liberation Sans", sans-serif' fill="#1a1a1a" stroke="#1a1a1a" stroke-width="0.089">Training and Validation Loss</text>
<polyline transform="scale(1,0.73)" points="414.80,784.61 420.02,855.16 425.25,878.96 430.47,895.76 435.70,912.55 440.92,922.35 446.15,931.31 451.37,936.35 456.60,944.75 461.82,950.91 467.04,955.95 472.27,961.55 477.49,962.95 482.72,967.71 487.94,971.35 493.17,974.15 498.39,976.11 503.62,980.59 508.84,984.51 514.07,985.35 519.29,988.14 524.51,990.94 529.74,991.78 534.96,992.34 540.19,996.68 545.41,997.26 550.64,999.58 555.86,1001.61 561.09,1002.19 566.31,1002.19 571.53,1005.09 576.76,1007.41 581.98,1009.44 587.21,1008.86 592.43,1005.09 597.66,1010.31 602.88,1012.63 608.11,1011.76 613.33,1013.50 618.56,1014.08 623.78,1015.24 629.00,1014.66 634.23,1017.56 639.45,1014.08 644.68,1015.53 649.90,1017.56 655.13,1019.88 660.35,1019.01 665.58,1017.56 670.80,1021.04" fill="none" stroke="#1f77b4" stroke-width="2.4" stroke-linejoin="round" stroke-linecap="square"/>
<polyline transform="scale(1,0.73)" points="414.80,838.92 420.02,869.16 425.25,880.36 430.47,881.76 435.70,915.35 440.92,921.79 446.15,928.51 451.37,923.75 456.60,931.31 461.82,927.39 467.04,934.11 472.27,936.91 477.49,927.39 482.72,946.99 487.94,943.35 493.17,915.35 498.39,933.55 503.62,953.15 508.84,954.55 514.07,948.95 519.29,950.91 524.51,953.15 529.74,942.51 534.96,952.59 540.19,947.96 545.41,945.64 550.64,941.58 555.86,950.86 561.09,943.61 566.31,947.38 571.53,938.68 576.76,942.16 581.98,932.01 587.21,892.28 592.43,934.04 597.66,928.24 602.88,933.46 608.11,908.81 613.33,927.66 618.56,923.31 623.78,924.18 629.00,922.44 634.23,917.51 639.45,900.11 644.68,924.18 649.90,918.96 655.13,918.38 660.35,922.44 665.58,899.24 670.80,905.91" fill="none" stroke="#ff7f0e" stroke-width="2.4" stroke-linejoin="round" stroke-linecap="square"/>
<rect x="402.20" y="565.00" width="281.40" height="189.30" fill="none" stroke="#555" stroke-width="1"/>
<line x1="398.70" y1="726.00" x2="402.20" y2="726.00" stroke="#555" stroke-width="0.8"/>
<text transform="translate(365.13,728.80) scale(0.6070,0.4070)" font-size="20" font-family='"Liberation Sans", sans-serif' fill="#1a1a1a" stroke="#1a1a1a" stroke-width="0.329">0.005</text>
<line x1="398.70" y1="695.30" x2="402.20" y2="695.30" stroke="#555" stroke-width="0.8"/>
<text transform="translate(365.13,698.10) scale(0.6063,0.4070)" font-size="20" font-family='"Liberation Sans", sans-serif' fill="#1a1a1a" stroke="#1a1a1a" stroke-width="0.330">0.010</text>
<line x1="398.70" y1="664.60" x2="402.20" y2="664.60" stroke="#555" stroke-width="0.8"/>
<text transform="translate(365.13,667.40) scale(0.6070,0.4070)" font-size="20" font-family='"Liberation Sans", sans-serif' fill="#1a1a1a" stroke="#1a1a1a" stroke-width="0.329">0.015</text>
<line x1="398.70" y1="633.90" x2="402.20" y2="633.90" stroke="#555" stroke-width="0.8"/>
<text transform="translate(365.13,636.70) scale(0.6063,0.4070)" font-size="20" font-family='"Liberation Sans", sans-serif' fill="#1a1a1a" stroke="#1a1a1a" stroke-width="0.330">0.020</text>
<line x1="398.70" y1="603.20" x2="402.20" y2="603.20" stroke="#555" stroke-width="0.8"/>
<text transform="translate(365.13,606.00) scale(0.6070,0.4070)" font-size="20" font-family='"Liberation Sans", sans-serif' fill="#1a1a1a" stroke="#1a1a1a" stroke-width="0.329">0.025</text>
<line x1="398.70" y1="572.50" x2="402.20" y2="572.50" stroke="#555" stroke-width="0.8"/>
<text transform="translate(365.13,575.30) scale(0.6063,0.4070)" font-size="20" font-family='"Liberation Sans", sans-serif' fill="#1a1a1a" stroke="#1a1a1a" stroke-width="0.330">0.030</text>
<line x1="414.80" y1="754.30" x2="414.80" y2="756.60" stroke="#555" stroke-width="0.8"/>
<text transform="translate(411.49,764.00) scale(0.5950,0.4070)" font-size="20" font-family='"Liberation Sans", sans-serif' fill="#1a1a1a" stroke="#1a1a1a" stroke-width="0.336">0</text>
<line x1="467.04" y1="754.30" x2="467.04" y2="756.60" stroke="#555" stroke-width="0.8"/>
<text transform="translate(459.86,764.00) scale(0.6249,0.4070)" font-size="20" font-family='"Liberation Sans", sans-serif' fill="#1a1a1a" stroke="#1a1a1a" stroke-width="0.320">10</text>
<line x1="519.29" y1="754.30" x2="519.29" y2="756.60" stroke="#555" stroke-width="0.8"/>
<text transform="translate(512.45,764.00) scale(0.6091,0.4070)" font-size="20" font-family='"Liberation Sans", sans-serif' fill="#1a1a1a" stroke="#1a1a1a" stroke-width="0.328">20</text>
<line x1="571.53" y1="754.30" x2="571.53" y2="756.60" stroke="#555" stroke-width="0.8"/>
<text transform="translate(564.85,764.00) scale(0.6020,0.4070)" font-size="20" font-family='"Liberation Sans", sans-serif' fill="#1a1a1a" stroke="#1a1a1a" stroke-width="0.332">30</text>
<line x1="623.78" y1="754.30" x2="623.78" y2="756.60" stroke="#555" stroke-width="0.8"/>
<text transform="translate(617.28,764.00) scale(0.5933,0.4070)" font-size="20" font-family='"Liberation Sans", sans-serif' fill="#1a1a1a" stroke="#1a1a1a" stroke-width="0.337">40</text>
<line x1="676.02" y1="754.30" x2="676.02" y2="756.60" stroke="#555" stroke-width="0.8"/>
<text transform="translate(669.31,764.00) scale(0.6031,0.4070)" font-size="20" font-family='"Liberation Sans", sans-serif' fill="#1a1a1a" stroke="#1a1a1a" stroke-width="0.332">50</text>
<text transform="translate(517.15,776.10) scale(0.7615,0.5451)" font-size="20" font-family='"Liberation Sans", sans-serif' fill="#1a1a1a" stroke="#1a1a1a" stroke-width="0.131">Epochs</text>
<text transform="translate(358.10,671.52) rotate(-90) scale(0.4990,0.7703)" font-size="20" font-family='"Liberation Sans", sans-serif' fill="#1a1a1a" stroke="#1a1a1a" stroke-width="0.130">Loss</text>
<rect x="551.90" y="569.00" width="126.00" height="25.00" rx="2" ry="1.5" fill="#fff" fill-opacity="0.85" stroke="#d6d6d6" stroke-width="0.9"/>
<line x1="555.40" y1="575.60" x2="580.20" y2="575.60" stroke="#1f77b4" stroke-width="1.7"/>
<line x1="555.40" y1="587.00" x2="580.20" y2="587.00" stroke="#ff7f0e" stroke-width="1.7"/>
<text transform="translate(587.72,578.10) scale(0.6140,0.3997)" font-size="20" font-family='"Liberation Sans", sans-serif' fill="#1a1a1a" stroke="#1a1a1a" stroke-width="0.326">Training Loss</text>
<text transform="translate(587.95,589.50) scale(0.6230,0.3997)" font-size="20" font-family='"Liberation Sans", sans-serif' fill="#1a1a1a" stroke="#1a1a1a" stroke-width="0.321">Validation Loss</text>
<text transform="translate(66.10,837.90) scale(0.9010,0.5741)" font-size="20" font-family='"Liberation Sans", sans-serif' fill="#1a1a1a" stroke="#1a1a1a" stroke-width="0.089">Training and Validation Accuracy</text>
<polyline transform="scale(1,0.73)" points="69.40,1390.58 74.69,1376.03 79.97,1357.83 85.26,1336.83 90.54,1317.23 95.83,1297.64 101.11,1283.64 106.40,1269.64 111.69,1255.64 116.97,1245.84 122.26,1234.64 127.54,1229.88 132.83,1223.45 138.11,1219.25 143.40,1213.65 148.69,1208.05 153.97,1202.45 159.26,1201.05 164.54,1194.89 169.83,1190.41 175.11,1184.81 180.40,1187.89 185.69,1183.69 190.97,1182.85 196.26,1180.55 201.54,1181.45 206.83,1174.55 212.11,1176.05 217.40,1173.05 222.69,1173.05 227.97,1174.55 233.26,1172.45 238.54,1171.55 243.83,1168.55 249.11,1166.45 254.40,1169.15 259.69,1170.05 264.97,1165.55 270.26,1170.05 275.54,1164.65 280.83,1164.95 286.11,1166.45 291.40,1167.05 296.69,1164.65 301.97,1164.65 307.26,1165.25 312.54,1165.55 317.83,1163.45 323.11,1167.05 328.40,1163.45" fill="none" stroke="#1f77b4" stroke-width="2.4" stroke-linejoin="round" stroke-linecap="square"/>
<polyline transform="scale(1,0.73)" points="69.40,1398.98 74.69,1395.06 79.97,1363.43 85.26,1354.19 90.54,1317.23 95.83,1344.67 101.11,1307.43 106.40,1287.84 111.69,1283.08 116.97,1273.84 122.26,1256.20 127.54,1264.60 132.83,1243.04 138.11,1240.24 143.40,1245.00 148.69,1242.20 153.97,1247.80 159.26,1231.84 164.54,1235.48 169.83,1233.80 175.11,1235.48 180.40,1227.65 185.69,1228.20 190.97,1220.65 196.26,1231.54 201.54,1211.44 206.83,1234.54 212.11,1212.04 217.40,1207.55 222.69,1222.54 227.97,1225.54 233.26,1209.04 238.54,1211.14 243.83,1211.14 249.11,1209.04 254.40,1206.05 259.69,1218.64 264.97,1206.05 270.26,1209.64 275.54,1231.54 280.83,1207.55 286.11,1213.54 291.40,1216.54 296.69,1199.45 301.97,1221.64 307.26,1203.05 312.54,1200.65 317.83,1206.65 323.11,1203.05 328.40,1213.54" fill="none" stroke="#ff7f0e" stroke-width="2.4" stroke-linejoin="round" stroke-linecap="square"/>
<rect x="57.00" y="841.50" width="284.00" height="188.70" fill="none" stroke="#555" stroke-width="1"/>
<line x1="53.50" y1="999.60" x2="57.00" y2="999.60" stroke="#555" stroke-width="0.8"/>
<text transform="translate(19.93,1002.40) scale(0.6063,0.4070)" font-size="20" font-family='"Liberation Sans", sans-serif' fill="#1a1a1a" stroke="#1a1a1a" stroke-width="0.330">0.990</text>
<line x1="53.50" y1="968.80" x2="57.00" y2="968.80" stroke="#555" stroke-width="0.8"/>
<text transform="translate(19.93,971.60) scale(0.6091,0.4070)" font-size="20" font-family='"Liberation Sans", sans-serif' fill="#1a1a1a" stroke="#1a1a1a" stroke-width="0.328">0.992</text>
<line x1="53.50" y1="938.00" x2="57.00" y2="938.00" stroke="#555" stroke-width="0.8"/>
<text transform="translate(19.93,940.80) scale(0.6038,0.4070)" font-size="20" font-family='"Liberation Sans", sans-serif' fill="#1a1a1a" stroke="#1a1a1a" stroke-width="0.331">0.994</text>
<line x1="53.50" y1="907.20" x2="57.00" y2="907.20" stroke="#555" stroke-width="0.8"/>
<text transform="translate(19.93,910.00) scale(0.6075,0.4070)" font-size="20" font-family='"Liberation Sans", sans-serif' fill="#1a1a1a" stroke="#1a1a1a" stroke-width="0.329">0.996</text>
<line x1="53.50" y1="876.40" x2="57.00" y2="876.40" stroke="#555" stroke-width="0.8"/>
<text transform="translate(19.93,879.20) scale(0.6074,0.4070)" font-size="20" font-family='"Liberation Sans", sans-serif' fill="#1a1a1a" stroke="#1a1a1a" stroke-width="0.329">0.998</text>
<line x1="53.50" y1="845.60" x2="57.00" y2="845.60" stroke="#555" stroke-width="0.8"/>
<text transform="translate(19.47,848.40) scale(0.6157,0.4070)" font-size="20" font-family='"Liberation Sans", sans-serif' fill="#1a1a1a" stroke="#1a1a1a" stroke-width="0.325">1.000</text>
<line x1="69.40" y1="1030.20" x2="69.40" y2="1032.50" stroke="#555" stroke-width="0.8"/>
<text transform="translate(66.09,1039.90) scale(0.5950,0.4070)" font-size="20" font-family='"Liberation Sans", sans-serif' fill="#1a1a1a" stroke="#1a1a1a" stroke-width="0.336">0</text>
<line x1="122.26" y1="1030.20" x2="122.26" y2="1032.50" stroke="#555" stroke-width="0.8"/>
<text transform="translate(115.07,1039.90) scale(0.6249,0.4070)" font-size="20" font-family='"Liberation Sans", sans-serif' fill="#1a1a1a" stroke="#1a1a1a" stroke-width="0.320">10</text>
<line x1="175.11" y1="1030.20" x2="175.11" y2="1032.50" stroke="#555" stroke-width="0.8"/>
<text transform="translate(168.27,1039.90) scale(0.6091,0.4070)" font-size="20" font-family='"Liberation Sans", sans-serif' fill="#1a1a1a" stroke="#1a1a1a" stroke-width="0.328">20</text>
<line x1="227.97" y1="1030.20" x2="227.97" y2="1032.50" stroke="#555" stroke-width="0.8"/>
<text transform="translate(221.28,1039.90) scale(0.6020,0.4070)" font-size="20" font-family='"Liberation Sans", sans-serif' fill="#1a1a1a" stroke="#1a1a1a" stroke-width="0.332">30</text>
<line x1="280.83" y1="1030.20" x2="280.83" y2="1032.50" stroke="#555" stroke-width="0.8"/>
<text transform="translate(274.33,1039.90) scale(0.5933,0.4070)" font-size="20" font-family='"Liberation Sans", sans-serif' fill="#1a1a1a" stroke="#1a1a1a" stroke-width="0.337">40</text>
<line x1="333.69" y1="1030.20" x2="333.69" y2="1032.50" stroke="#555" stroke-width="0.8"/>
<text transform="translate(326.97,1039.90) scale(0.6031,0.4070)" font-size="20" font-family='"Liberation Sans", sans-serif' fill="#1a1a1a" stroke="#1a1a1a" stroke-width="0.332">50</text>
<text transform="translate(173.25,1052.00) scale(0.7615,0.5451)" font-size="20" font-family='"Liberation Sans", sans-serif' fill="#1a1a1a" stroke="#1a1a1a" stroke-width="0.131">Epochs</text>
<text transform="translate(10.90,958.57) rotate(-90) scale(0.5404,0.7631)" font-size="20" font-family='"Liberation Sans", sans-serif' fill="#1a1a1a" stroke="#1a1a1a" stroke-width="0.131">Accuracy</text>
<rect x="182.00" y="1001.20" width="153.30" height="25.00" rx="2" ry="1.5" fill="#fff" fill-opacity="0.85" stroke="#d6d6d6" stroke-width="0.9"/>
<line x1="185.50" y1="1007.80" x2="210.30" y2="1007.80" stroke="#1f77b4" stroke-width="1.7"/>
<line x1="185.50" y1="1019.20" x2="210.30" y2="1019.20" stroke="#ff7f0e" stroke-width="1.7"/>
<text transform="translate(217.82,1010.30) scale(0.6254,0.3997)" font-size="20" font-family='"Liberation Sans", sans-serif' fill="#1a1a1a" stroke="#1a1a1a" stroke-width="0.320">Training Accuracy</text>
<text transform="translate(218.04,1021.70) scale(0.6324,0.3997)" font-size="20" font-family='"Liberation Sans", sans-serif' fill="#1a1a1a" stroke="#1a1a1a" stroke-width="0.316">Validation Accuracy</text>
<text transform="translate(427.35,837.90) scale(0.8981,0.5741)" font-size="20" font-family='"Liberation Sans", sans-serif' fill="#1a1a1a" stroke="#1a1a1a" stroke-width="0.089">Training and Validation Loss</text>
<polyline transform="scale(1,0.73)" points="411.70,1163.25 416.99,1244.44 422.27,1269.64 427.56,1287.84 432.84,1300.44 438.13,1311.63 443.41,1322.83 448.70,1331.23 453.99,1340.19 459.27,1346.63 464.56,1353.63 469.84,1358.67 475.13,1363.43 480.41,1367.07 485.70,1369.03 490.99,1373.23 496.27,1376.03 501.56,1377.43 506.84,1378.83 512.13,1382.19 517.41,1384.42 522.70,1383.86 527.99,1387.22 533.27,1387.22 538.56,1389.01 543.84,1389.01 549.13,1391.41 554.41,1391.11 559.70,1392.91 564.99,1394.11 570.27,1392.61 575.56,1393.81 580.84,1395.01 586.13,1395.91 591.41,1396.51 596.70,1396.51 601.99,1395.91 607.27,1397.41 612.56,1394.41 617.84,1398.61 623.13,1398.01 628.41,1397.41 633.70,1397.41 638.99,1398.61 644.27,1398.01 649.56,1398.01 654.84,1398.61 660.13,1398.91 665.41,1398.01 670.70,1399.51" fill="none" stroke="#1f77b4" stroke-width="2.4" stroke-linejoin="round" stroke-linecap="square"/>
<polyline transform="scale(1,0.73)" points="411.70,1213.09 416.99,1244.44 422.27,1269.64 427.56,1285.88 432.84,1290.64 438.13,1285.04 443.41,1307.43 448.70,1317.79 453.99,1319.47 459.27,1321.43 464.56,1331.23 469.84,1327.03 475.13,1339.63 480.41,1339.07 485.70,1341.03 490.99,1346.63 496.27,1338.23 501.56,1342.99 506.84,1345.79 512.13,1343.83 517.41,1336.27 522.70,1353.07 527.99,1341.03 533.27,1357.83 538.56,1341.02 543.84,1357.52 549.13,1327.52 554.41,1356.92 559.70,1356.92 564.99,1345.52 570.27,1339.52 575.56,1341.02 580.84,1347.02 586.13,1357.52 591.41,1351.52 596.70,1359.92 601.99,1345.52 607.27,1348.52 612.56,1349.42 617.84,1320.03 623.13,1353.02 628.41,1340.12 633.70,1341.62 638.99,1346.12 644.27,1343.12 649.56,1350.02 654.84,1350.92 660.13,1349.42 665.41,1341.02 670.70,1345.52" fill="none" stroke="#ff7f0e" stroke-width="2.4" stroke-linejoin="round" stroke-linecap="square"/>
<rect x="399.70" y="841.50" width="283.90" height="188.70" fill="none" stroke="#555" stroke-width="1"/>
<line x1="396.20" y1="1024.20" x2="399.70" y2="1024.20" stroke="#555" stroke-width="0.8"/>
<text transform="translate(369.40,1027.00) scale(0.6055,0.4070)" font-size="20" font-family='"Liberation Sans", sans-serif' fill="#1a1a1a" stroke="#1a1a1a" stroke-width="0.330">0.00</text>
<line x1="396.20" y1="994.70" x2="399.70" y2="994.70" stroke="#555" stroke-width="0.8"/>
<text transform="translate(369.40,997.50) scale(0.6087,0.4070)" font-size="20" font-family='"Liberation Sans", sans-serif' fill="#1a1a1a" stroke="#1a1a1a" stroke-width="0.329">0.01</text>
<line x1="396.20" y1="965.20" x2="399.70" y2="965.20" stroke="#555" stroke-width="0.8"/>
<text transform="translate(369.40,968.00) scale(0.6091,0.4070)" font-size="20" font-family='"Liberation Sans", sans-serif' fill="#1a1a1a" stroke="#1a1a1a" stroke-width="0.328">0.02</text>
<line x1="396.20" y1="935.70" x2="399.70" y2="935.70" stroke="#555" stroke-width="0.8"/>
<text transform="translate(369.40,938.50) scale(0.6071,0.4070)" font-size="20" font-family='"Liberation Sans", sans-serif' fill="#1a1a1a" stroke="#1a1a1a" stroke-width="0.329">0.03</text>
<line x1="396.20" y1="906.20" x2="399.70" y2="906.20" stroke="#555" stroke-width="0.8"/>
<text transform="translate(369.41,909.00) scale(0.6023,0.4070)" font-size="20" font-family='"Liberation Sans", sans-serif' fill="#1a1a1a" stroke="#1a1a1a" stroke-width="0.332">0.04</text>
<line x1="396.20" y1="876.70" x2="399.70" y2="876.70" stroke="#555" stroke-width="0.8"/>
<text transform="translate(369.40,879.50) scale(0.6064,0.4070)" font-size="20" font-family='"Liberation Sans", sans-serif' fill="#1a1a1a" stroke="#1a1a1a" stroke-width="0.330">0.05</text>
<line x1="396.20" y1="847.20" x2="399.70" y2="847.20" stroke="#555" stroke-width="0.8"/>
<text transform="translate(369.40,850.00) scale(0.6071,0.4070)" font-size="20" font-family='"Liberation Sans", sans-serif' fill="#1a1a1a" stroke="#1a1a1a" stroke-width="0.329">0.06</text>
<line x1="411.70" y1="1030.20" x2="411.70" y2="1032.50" stroke="#555" stroke-width="0.8"/>
<text transform="translate(408.39,1039.90) scale(0.5950,0.4070)" font-size="20" font-family='"Liberation Sans", sans-serif' fill="#1a1a1a" stroke="#1a1a1a" stroke-width="0.336">0</text>
<line x1="464.56" y1="1030.20" x2="464.56" y2="1032.50" stroke="#555" stroke-width="0.8"/>
<text transform="translate(457.37,1039.90) scale(0.6249,0.4070)" font-size="20" font-family='"Liberation Sans", sans-serif' fill="#1a1a1a" stroke="#1a1a1a" stroke-width="0.320">10</text>
<line x1="517.41" y1="1030.20" x2="517.41" y2="1032.50" stroke="#555" stroke-width="0.8"/>
<text transform="translate(510.57,1039.90) scale(0.6091,0.4070)" font-size="20" font-family='"Liberation Sans", sans-serif' fill="#1a1a1a" stroke="#1a1a1a" stroke-width="0.328">20</text>
<line x1="570.27" y1="1030.20" x2="570.27" y2="1032.50" stroke="#555" stroke-width="0.8"/>
<text transform="translate(563.58,1039.90) scale(0.6020,0.4070)" font-size="20" font-family='"Liberation Sans", sans-serif' fill="#1a1a1a" stroke="#1a1a1a" stroke-width="0.332">30</text>
<line x1="623.13" y1="1030.20" x2="623.13" y2="1032.50" stroke="#555" stroke-width="0.8"/>
<text transform="translate(616.63,1039.90) scale(0.5933,0.4070)" font-size="20" font-family='"Liberation Sans", sans-serif' fill="#1a1a1a" stroke="#1a1a1a" stroke-width="0.337">40</text>
<line x1="675.99" y1="1030.20" x2="675.99" y2="1032.50" stroke="#555" stroke-width="0.8"/>
<text transform="translate(669.27,1039.90) scale(0.6031,0.4070)" font-size="20" font-family='"Liberation Sans", sans-serif' fill="#1a1a1a" stroke="#1a1a1a" stroke-width="0.332">50</text>
<text transform="translate(515.90,1052.00) scale(0.7615,0.5451)" font-size="20" font-family='"Liberation Sans", sans-serif' fill="#1a1a1a" stroke="#1a1a1a" stroke-width="0.131">Epochs</text>
<text transform="translate(362.20,947.72) rotate(-90) scale(0.4990,0.7703)" font-size="20" font-family='"Liberation Sans", sans-serif' fill="#1a1a1a" stroke="#1a1a1a" stroke-width="0.130">Loss</text>
<rect x="551.90" y="845.50" width="126.00" height="25.00" rx="2" ry="1.5" fill="#fff" fill-opacity="0.85" stroke="#d6d6d6" stroke-width="0.9"/>
<line x1="555.40" y1="852.10" x2="580.20" y2="852.10" stroke="#1f77b4" stroke-width="1.7"/>
<line x1="555.40" y1="863.50" x2="580.20" y2="863.50" stroke="#ff7f0e" stroke-width="1.7"/>
<text transform="translate(587.72,854.60) scale(0.6140,0.3997)" font-size="20" font-family='"Liberation Sans", sans-serif' fill="#1a1a1a" stroke="#1a1a1a" stroke-width="0.326">Training Loss</text>
<text transform="translate(587.95,866.00) scale(0.6230,0.3997)" font-size="20" font-family='"Liberation Sans", sans-serif' fill="#1a1a1a" stroke="#1a1a1a" stroke-width="0.321">Validation Loss</text>
<text transform="translate(216.62,246.70) scale(0.6859,0.6541)" font-size="20" font-family='"Liberation Sans", sans-serif' font-weight="bold" fill="#1a1a1a">(a)</text>
<text transform="translate(237.76,246.70) scale(0.6762,0.6756)" font-size="20" font-family='"Liberation Serif", serif' fill="#1a1a1a">Training curves for DNN (smartphones)</text>
<text transform="translate(213.72,522.50) scale(0.6796,0.6541)" font-size="20" font-family='"Liberation Sans", sans-serif' font-weight="bold" fill="#1a1a1a">(b)</text>
<text transform="translate(235.15,522.50) scale(0.6789,0.6756)" font-size="20" font-family='"Liberation Serif", serif' fill="#1a1a1a">Training curves for DNN (smartwatches)</text>
<text transform="translate(217.14,798.70) scale(0.6637,0.6541)" font-size="20" font-family='"Liberation Sans", sans-serif' font-weight="bold" fill="#1a1a1a">(c)</text>
<text transform="translate(238.06,798.70) scale(0.6776,0.6756)" font-size="20" font-family='"Liberation Serif", serif' fill="#1a1a1a">Training curves for CNN (smartphones)</text>
<text transform="translate(214.04,1075.20) scale(0.6668,0.6541)" font-size="20" font-family='"Liberation Sans", sans-serif' font-weight="bold" fill="#1a1a1a">(d)</text>
<text transform="translate(235.75,1075.20) scale(0.6787,0.6756)" font-size="20" font-family='"Liberation Serif", serif' fill="#1a1a1a">Training curves for CNN (smartwatches)</text>
</svg>
</body></html>
